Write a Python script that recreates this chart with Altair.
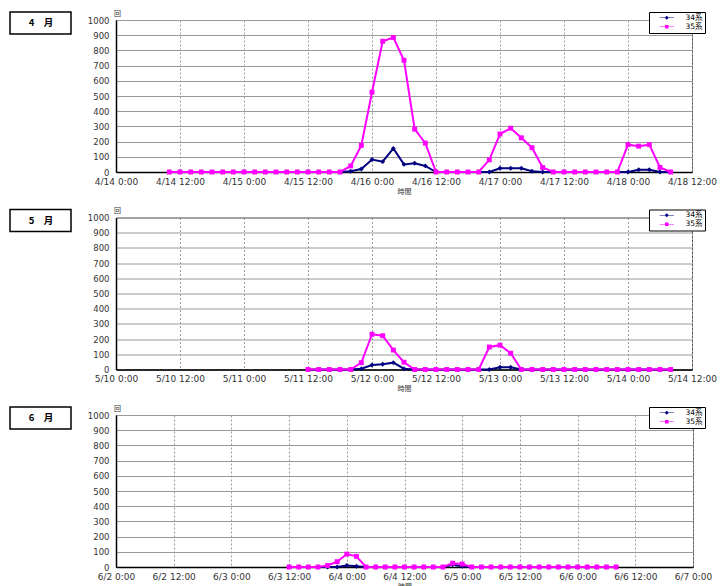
import altair as alt
import pandas as pd

series_names = ["34系", "35系"]
series_colors = ["#000080", "#FF00FF"]
series_shapes = ["diamond", "square"]
# legend glyphs: a line with the marker in its middle
legend_glyphs = [
    "M-2.6,-0.13H2.6V0.13H-2.6Z M0,-0.75L0.75,0L0,0.75L-0.75,0Z",
    "M-2.6,-0.13H2.6V0.13H-2.6Z M-0.65,-0.65H0.65V0.65H-0.65Z",
]

# ---- April panel (2-hourly from 4/14 10:00) ----
apr_label = "4　月"
apr_first = "2010-04-14 10:00"
apr_axis = ("2010-04-14 00:00", "2010-04-18 12:00")
apr_35 = [0, 0, 0, 0, 0, 0, 0, 0, 0, 0, 0, 0, 0, 0, 0, 0, 0,
          40, 175, 525, 860, 885, 735, 282, 190, 0,
          0, 0, 0, 0, 80, 250, 288, 225, 160, 30, 0,
          0, 0, 0, 0, 0, 0, 180, 170, 180, 30, 0]
apr_34 = [0, 0, 0, 0, 0, 0, 0, 0, 0, 0, 0, 0, 0, 0, 0, 0, 0,
          5, 20, 82, 68, 155, 50, 58, 40, 0,
          0, 0, 0, 0, 0, 25, 25, 25, 5, 0, 0,
          0, 0, 0, 0, 0, 0, 0, 15, 15, 0, 0]

# ---- May panel (2-hourly from 5/11 12:00) ----
may_label = "5　月"
may_first = "2010-05-11 12:00"
may_axis = ("2010-05-10 00:00", "2010-05-14 12:00")
may_35 = [0, 0, 0, 0, 0, 45, 232, 222, 128, 48, 0,
          0, 0, 0, 0, 0, 0, 148, 160, 107, 0,
          0, 0, 0, 0, 0, 0, 0, 0, 0, 0, 0, 0, 0, 0]
may_34 = [0, 0, 0, 0, 0, 5, 30, 35, 45, 5, 0,
          0, 0, 0, 0, 0, 0, 0, 15, 15, 0,
          0, 0, 0, 0, 0, 0, 0, 0, 0, 0, 0, 0, 0, 0]

# ---- June panel (2-hourly from 6/3 12:00) ----
jun_label = "6　月"
jun_first = "2010-06-03 12:00"
jun_axis = ("2010-06-02 00:00", "2010-06-07 00:00")
jun_35 = [0, 0, 0, 0, 10, 35, 85, 70, 0, 0, 0,
          0, 0, 0, 0, 0, 0, 25, 20, 0, 0,
          0, 0, 0, 0, 0, 0, 0, 0, 0, 0, 0, 0, 0, 0]
jun_34 = [0, 0, 0, 0, 0, 0, 10, 5, 0, 0, 0,
          0, 0, 0, 0, 0, 0, 15, 5, 0, 0,
          0, 0, 0, 0, 0, 0, 0, 0, 0, 0, 0, 0, 0, 0]

y_ticks = list(range(0, 1001, 100))
FONT = "DejaVu Sans, Noto Sans CJK JP"
CJK = "Noto Sans CJK JP"


def dt(t):
    return alt.DateTime(year=t.year, month=t.month, date=t.day, hours=t.hour, minutes=t.minute)


def panel(label, first, axis_range, v34, v35, width):
    times = list(pd.date_range(first, periods=len(v35), freq="2h"))
    df = pd.DataFrame({
        "t": times + times,
        "v": v34 + v35,
        "s": [series_names[0]] * len(v34) + [series_names[1]] * len(v35),
    })
    ticks = list(pd.date_range(axis_range[0], axis_range[1], freq="12h"))
    xenc = alt.X(
        "t:T",
        scale=alt.Scale(domain=[dt(ticks[0]), dt(ticks[-1])]),
        axis=alt.Axis(
            values=[dt(t) for t in ticks], format="%-m/%-d %-H:%M", title="時間",
            grid=True, gridDash=[2, 2], gridColor="#9a9a9a", gridWidth=1,
            ticks=False, labelPadding=5, titlePadding=1, labelFlush=False,
            labelFontSize=9, labelOverlap=False,
        ),
    )
    yenc = alt.Y(
        "v:Q",
        scale=alt.Scale(domain=[0, 1000], nice=False),
        axis=alt.Axis(
            values=y_ticks, format="d", title="回", titleAngle=0, titleX=1, titleY=-7,
            titleAlign="center", titleBaseline="middle",
            grid=True, gridColor="#9a9a9a", gridWidth=1, ticks=False, labelPadding=7,
            labelFontSize=8.5,
        ),
    )
    base = alt.Chart(df).encode(x=xenc, y=yenc)
    layers = []
    for s, c, sh in zip(series_names, series_colors, series_shapes):
        f = base.transform_filter(alt.datum.s == s)
        layers.append(f.mark_line(strokeWidth=2, color=c))
        layers.append(f.mark_point(filled=True, size=24, opacity=1, color=c, shape=sh))

    legend = alt.Legend(
        title=None, orient="none", legendX=533, legendY=-8, direction="vertical",
        strokeColor="#000", fillColor="#fff", padding=2, rowPadding=0,
        labelFontSize=7.5, labelFont=FONT, symbolSize=30, symbolStrokeWidth=0,
        symbolOffset=12, labelOffset=15, labelLimit=60,
    )
    legend_layer = base.mark_point(filled=True, size=0, opacity=1).encode(
        color=alt.Color("s:N", scale=alt.Scale(domain=series_names, range=series_colors), legend=legend),
        shape=alt.Shape("s:N", scale=alt.Scale(domain=series_names, range=legend_glyphs), legend=legend),
    )

    lab = pd.DataFrame({"m": [label]})
    box = alt.Chart(lab).mark_rect(fill="white", stroke="black", strokeWidth=1.5).encode(
        x=alt.value(-106), x2=alt.value(-45), y=alt.value(-8), y2=alt.value(14)
    )
    txt = alt.Chart(lab).mark_text(fontSize=9.5, fontWeight="bold", font=CJK).encode(
        x=alt.value(-75), y=alt.value(3), text="m:N"
    )
    return alt.layer(*layers, legend_layer, box, txt).properties(width=width, height=152)


p1 = panel(apr_label, apr_first, apr_axis, apr_34, apr_35, 576)
p2 = panel(may_label, may_first, may_axis, may_34, may_35, 576)
p3 = panel(jun_label, jun_first, jun_axis, jun_34, jun_35, 577)

chart = (
    alt.vconcat(p1, p2, p3, spacing=45.5, bounds="flush")
    .resolve_scale(x="independent", y="independent", color="independent", shape="independent")
    .resolve_legend(color="independent", shape="independent")
    .configure(padding=0)
    .configure_view(stroke="#555", strokeWidth=1)
    .configure_axis(
        labelFont=FONT, labelColor="#333",
        titleFont=CJK, titleFontSize=7, titleColor="#333", titleFontWeight="normal",
        domainColor="#000", domainWidth=1.5,
    )
)

chart.save("out.html", embed_options={"renderer": "svg", "actions": False})
